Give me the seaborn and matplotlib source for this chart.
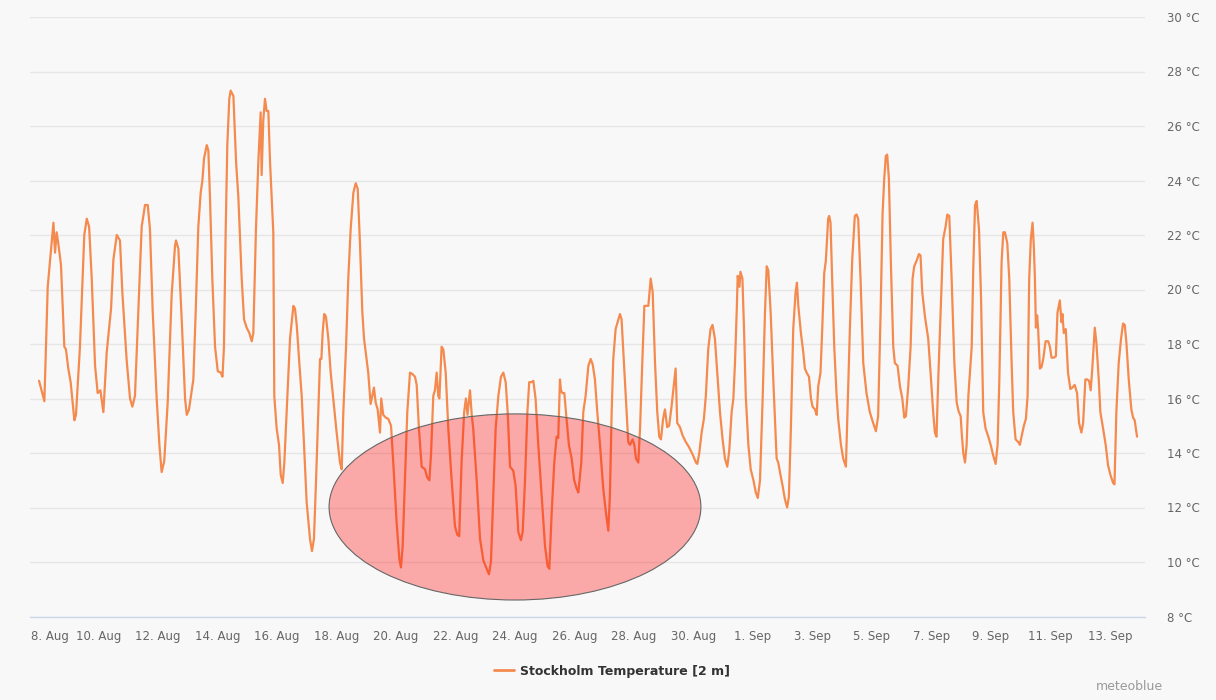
import matplotlib
matplotlib.use("Agg")
import matplotlib.pyplot as plt
import matplotlib.dates as mdates
from matplotlib.patches import Ellipse
from matplotlib.lines import Line2D
import pandas as pd
import seaborn as sns

# hours after 8 Aug 00:00
HOURS = [
    0, 4.3, 7, 11.6, 12.9, 14.2, 15.5, 17.7, 20.4, 21.7, 23.6, 25.5, 28.5, 29.8, 33, 36.5, 38.5, 40.4,
    42.5, 45.2, 47.3, 49.5, 51.9, 54.6, 58.1, 60, 62.7, 65.3, 67.2, 70.7, 73.4, 75.3, 77.4, 80.1, 82.8,
    85.5, 87.7, 89.5, 91.7, 94.9, 97.1, 98.9, 101, 103.8, 107, 109.7, 110.5, 112.4, 115.1, 117.8, 119.2,
    121, 122.6, 124.5, 126.4, 128.5, 130.4, 131.8, 133.1, 135.3, 136.6, 137.9, 139.8, 142, 144.2, 146.6,
    148, 149.2, 150.6, 151.9, 153.5, 154.6, 156.8, 159, 160.8, 163.5, 165.4, 167.5, 169.7, 171.6, 172.9,
    175, 176.9, 178.8, 179.6, 180.9, 182.3, 183.6, 185, 186.4, 189, 189.8, 191.7, 193.6, 195, 196.6,
    197.9, 200.4, 202.5, 205.2, 206.5, 207.9, 210, 211.9, 213.8, 215.9, 218.6, 220.2, 221.8, 223.5,
    225.3, 226.7, 227.8, 228.8, 230.1, 231.5, 233.4, 235.3, 238, 240.1, 242.8, 244.2, 245.5, 247.7,
    249.5, 251.4, 253.6, 255.5, 257.1, 259, 260.8, 262.2, 263.8, 265.6, 267.5, 268.9, 270.2, 271.6,
    273.2, 275.1, 276.1, 277.7, 279.7, 281.8, 284, 285.8, 288.5, 290.7, 292, 293.4, 295.2, 297.1, 299.3,
    301.2, 303.3, 304.7, 306.5, 308.7, 311.4, 313.2, 314.9, 316.2, 318.1, 319.4, 320.8, 322.1, 323,
    324.8, 326.2, 328.1, 330.2, 332.9, 335.6, 337.5, 339, 340.9, 343, 344.4, 345.7, 347.7, 349.1, 350.3,
    353.1, 355.8, 358.5, 361.2, 363, 364.6, 366.5, 368.4, 370.6, 372.7, 374.6, 376.5, 378.1, 380, 382.6,
    384.5, 386.7, 388.8, 390.2, 392.1, 394, 395.5, 397.4, 398.8, 400.6, 402.8, 405.5, 408.2, 410.3,
    411.7, 413.6, 415.7, 417.6, 418.9, 420.3, 421.1, 422.2, 423.8, 425.6, 427.5, 429.7, 431.8, 433.7,
    435.1, 437.5, 439.1, 441, 443.2, 445.1, 446.7, 448.5, 450.4, 452.6, 455.2, 457.4, 459.3, 460.6, 462,
    463.3, 465.2, 466.8, 468.7, 470, 471.9, 474.1, 475.4, 476.8, 478.9, 480.3, 481.6, 483.5, 484.9,
    486.7, 488.4, 490.2, 491.6, 493.5, 495.1, 497, 498.8, 500.4, 501.8, 503.5, 505, 506.8, 508.4, 510.3,
    512.1, 513.6, 514.9, 517.1, 519.2, 521.9, 524.6, 527.8, 530, 531.1, 532.7, 534.6, 536.4, 538, 539.9,
    541.8, 543.4, 545.3, 547.2, 549.4, 551.5, 553.4, 555.3, 556.9, 558.8, 560.2, 561.5, 562.9, 563.7,
    565.1, 565.9, 567.5, 568.8, 570.2, 572.3, 574.2, 576.4, 578.3, 579.9, 581.7, 583.9, 585.7, 587.1,
    588.4, 590.3, 592.4, 595.1, 596.4, 597.8, 599.9, 601.8, 603.6, 605, 606.6, 608.5, 610.4, 611.5,
    612.6, 614.7, 616.6, 617.9, 619.3, 621.2, 622.8, 624.1, 626, 627.4, 628.7, 630.5, 631.9, 633.5,
    634.8, 636.7, 637.5, 638.6, 639.9, 641.6, 643.5, 644.8, 647, 648.8, 651, 652.3, 654.2, 656.1, 658.2,
    659.6, 660.9, 662.8, 665, 667.6, 670.3, 673, 675.2, 677, 679, 680.6, 681.9, 683.2, 684.3, 685.7,
    687.3, 689.2, 690.5, 692.7, 694.6, 696.5, 698.1, 699.4, 701.3, 703.2, 704.8, 706.1, 708, 709.9,
    711.2, 712.6, 714.8, 717.4, 719.3, 721.4, 722.8, 724.1, 725.5, 727.4, 729.5, 731.4, 732.8, 734.4,
    736.3, 738.5, 740.4, 741.8, 743.6, 744.4, 745.7, 747.1, 748.4, 749.8, 752.5, 753.8, 755.2, 756.5,
    758.4, 760, 761.8, 763.7, 765.9, 767.8, 769.9, 771.8, 773.4, 774.8, 775.8, 776.6, 778, 779.3, 781.2,
    782.8, 784.7, 786, 787.9, 790.1, 791.4, 792.7, 794.6, 796.2, 797.6, 798.9, 800.2, 801.6, 802.6,
    803.5, 804.3, 805.3, 806.1, 807.5, 808.8, 810.2, 812.1, 814.2, 815.6, 816.9, 818.8, 820.4, 821.7,
    823.6, 824.9, 825.7, 826.8, 828.4, 830.2, 832.1, 833.7, 835.6, 837.5, 839.1, 841, 842.4, 844.2,
    845.6, 847.2, 848.5, 849.8, 851.8, 853.1, 855, 856.3, 858.5, 860.6, 862.5, 864.4, 866.6, 867.7,
    869.2, 871.1, 873, 874.6, 876, 877.3, 879.2, 881.3, 882.7, 884, 885.9,
]
TEMP = [
    16.65, 15.9, 20.1, 22.45, 21.35, 22.1, 21.7, 20.9, 17.9, 17.8, 17.1, 16.6, 15.2, 15.4, 17.9, 22.0, 22.6, 22.3,
    20.4, 17.2, 16.2, 16.3, 15.5, 17.7, 19.3, 21.1, 22.0, 21.8, 19.9, 17.4, 16.0, 15.7, 16.1, 19.2, 22.3,
    23.1, 23.1, 22.2, 19.2, 16.0, 14.3, 13.3, 13.7, 15.85, 19.8, 21.6, 21.8, 21.5, 18.9, 16.0, 15.4,
    15.6, 16.1, 16.7, 19.2, 22.3, 23.55, 24.0, 24.8, 25.3, 25.1, 23.4, 20.4, 17.9, 17.0, 16.95,
    16.8, 17.9, 22.2, 25.3, 27.0, 27.3, 27.1, 24.65, 23.4, 20.4, 18.9, 18.6, 18.4, 18.1, 18.4,
    22.2, 24.65, 26.5, 24.2, 26.2, 27.0, 26.55, 26.55, 24.65, 22.1, 16.1, 14.9, 14.3, 13.2, 12.9,
    13.65, 16.1, 18.2, 19.4, 19.3, 18.7, 17.3, 16.1, 14.3, 12.2, 10.85, 10.4, 10.85, 13.0,
    15.5, 17.45, 17.45, 18.4, 19.1, 19.0, 18.2, 16.95, 15.7, 14.75, 13.65, 13.4, 15.5, 17.9,
    20.4, 22.2, 23.55, 23.9, 23.7, 21.6, 19.2, 18.2, 17.6, 16.95, 15.8, 16.1, 16.4, 15.85,
    15.6, 14.75, 16.0, 15.4, 15.3, 15.25, 15.0, 13.65, 11.45, 10.1, 9.8, 10.6, 13.0, 15.5, 16.95,
    16.9, 16.8, 16.5, 14.9, 13.5, 13.4, 13.1, 13.0, 13.9, 16.1, 16.3, 16.95, 16.1, 16.0,
    17.9, 17.8, 16.95, 14.9, 13.0, 11.3, 11.0, 10.95, 13.65, 15.5, 16.0, 15.4, 16.3, 15.4, 14.9,
    13.0, 10.85, 10.05, 9.75, 9.55, 10.0, 12.45, 14.9, 16.1, 16.8, 16.95, 16.6, 15.5, 13.5, 13.35,
    12.8, 11.1, 10.8, 11.1, 13.0, 15.5, 16.6, 16.6, 16.65, 16.0, 14.3, 12.45, 10.6, 9.85,
    9.75, 11.8, 13.65, 14.6, 14.55, 16.7, 16.3, 16.2, 16.2, 15.25, 14.3, 13.8, 13.0, 12.7,
    12.55, 13.65, 15.5, 16.1, 17.2, 17.45, 17.25, 16.7, 15.5, 14.3, 12.7, 11.8, 11.15, 12.45, 15.5,
    17.45, 18.55, 18.8, 19.1, 18.9, 17.3, 15.5, 14.4, 14.3, 14.5, 14.3, 13.8, 13.65, 14.9,
    17.3, 19.4, 19.4, 19.4, 20.4, 19.9, 17.3, 15.5, 14.6, 14.5, 15.25, 15.6, 14.95, 15.0, 15.7,
    16.45, 17.1, 15.1, 14.95, 14.65, 14.4, 14.2, 13.9, 13.65, 13.6, 14.0, 14.75, 15.25, 16.1, 17.8,
    18.55, 18.7, 18.2, 16.95, 15.5, 14.5, 13.8, 13.5, 14.1, 15.5, 16.0, 17.3, 19.2, 20.5,
    20.1, 20.65, 20.4, 18.55, 16.1, 14.3, 13.4, 13.0, 12.55, 12.35, 13.0, 16.1, 19.15, 20.85,
    20.7, 19.15, 16.7, 13.8, 13.65, 13.3, 12.8, 12.3, 12.0, 12.4, 14.9, 18.55, 19.9, 20.25,
    19.4, 18.4, 17.7, 17.1, 16.95, 16.8, 16.0, 15.7, 15.6, 15.4, 16.45, 16.95, 18.55, 20.6,
    21.05, 22.6, 22.7, 22.45, 20.4, 17.9, 16.1, 15.25, 14.3, 13.8, 13.5, 15.5, 18.55, 21.1, 22.7,
    22.75, 22.6, 20.4, 17.3, 16.2, 15.5, 15.1, 14.8, 15.35, 19.15, 22.8, 24.05, 24.9, 24.95, 24.05,
    20.95, 17.9, 17.3, 17.2, 16.45, 16.0, 15.3, 15.35, 16.45, 17.9, 20.4, 20.85, 21.05, 21.3,
    21.25, 19.9, 19.0, 18.2, 16.95, 15.5, 14.75, 14.6, 16.7, 19.15, 21.85, 22.3, 22.75, 22.7,
    20.4, 17.3, 15.85, 15.55, 15.35, 14.75, 14.0, 13.65, 14.3, 16.1, 17.9, 20.85, 23.1, 23.25,
    22.2, 19.75, 15.5, 14.9, 14.6, 14.3, 13.9, 13.6, 14.3, 16.7, 19.15, 21.0, 22.1, 22.1, 21.7,
    20.4, 17.3, 15.5, 14.5, 14.4, 14.3, 14.6, 15.0, 15.25, 16.1, 20.4, 21.85, 22.45, 21.6,
    20.4, 18.6, 19.05, 18.55, 17.1, 17.15, 17.45, 18.1, 18.1, 17.9, 17.5, 17.5, 17.55, 19.15,
    19.6, 18.8, 19.1, 18.4, 18.55, 16.95, 16.35, 16.4, 16.5, 16.2, 15.1, 14.75, 15.1, 16.7,
    16.7, 16.65, 16.3, 17.1, 18.6, 18.05, 16.7, 15.5, 14.9, 14.3, 13.55, 13.2, 12.9, 12.85,
    15.5, 17.3, 18.2, 18.75, 18.7, 18.05, 16.7, 15.6, 15.3, 15.2, 14.6,
]
Y_TICKS = list(range(8, 31, 2))
SERIES_NAME = "Stockholm Temperature [2 m]"
START = pd.Timestamp("2023-08-08")

LINE_COLOR = "#f58a4e"
BG = "#f8f8f8"

df = pd.DataFrame({"time": START + pd.to_timedelta(HOURS, unit="h"), "temp": TEMP})

sns.set_theme(style="white", rc={"axes.facecolor": BG, "figure.facecolor": BG})
plt.rcParams["font.family"] = ["DejaVu Sans"]

fig = plt.figure(figsize=(12.16, 7), dpi=100)
ax = fig.add_axes([30 / 1216, 1 - 616.5 / 700, 1115 / 1216, 599.5 / 700])

sns.lineplot(data=df, x="time", y="temp", ax=ax, color=LINE_COLOR, linewidth=1.6, legend=False)

# highlighted cold spell
ell = Ellipse((mdates.date2num(START + pd.Timedelta(days=16)), 12.02), width=12.5, height=6.83,
              facecolor=(1, 0, 0, 0.32), edgecolor="#666666", linewidth=0.8, zorder=5)
ax.add_patch(ell)

ax.set_xlim(START - pd.Timedelta(hours=7.3), START + pd.Timedelta(days=37.18))
ax.set_ylim(8, 30)

xticks = [START + pd.Timedelta(days=2 * k) for k in range(19)]
labels = [f"{d.day}. {d.strftime('%b')}" for d in xticks]
ax.set_xticks(xticks)
# first label is pushed right to stay inside the plot, like the original
ax.set_xticklabels([""] + labels[1:], fontsize=8.5, color="#666666")
ax.annotate(labels[0], xy=(mdates.date2num(xticks[0]), 0), xycoords=("data", "axes fraction"),
            xytext=(7.5, -10), textcoords="offset points", ha="center", va="top",
            fontsize=8.5, color="#666666", annotation_clip=False)

ax.set_yticks(Y_TICKS)
ax.set_yticklabels([f"{t} °C" for t in Y_TICKS], fontsize=8.5, color="#666666")
ax.yaxis.tick_right()
ax.tick_params(axis="y", length=0, pad=16)
ax.tick_params(axis="x", length=7, width=1, color="#ccd6eb", direction="out", pad=3)
ax.grid(axis="y", color="#e6e6e6", linewidth=1)
ax.grid(axis="x", visible=False)
ax.set_xlabel("")
ax.set_ylabel("")
for side in ["left", "right", "top"]:
    ax.spines[side].set_visible(False)
ax.spines["bottom"].set_color("#ccd6eb")
ax.spines["bottom"].set_linewidth(1)

handle = Line2D([0], [0], color=LINE_COLOR, linewidth=2)
fig.legend([handle], [SERIES_NAME], loc="center", bbox_to_anchor=(612 / 1216, 1 - 671 / 700),
           frameon=False, handlelength=1.6, handletextpad=0.5,
           labelcolor="#333333", prop={"weight": "bold", "size": 9})

fig.text(1163 / 1216, 1 - 687 / 700, "meteoblue", ha="right", va="center", fontsize=9, color="#999999")

fig.savefig("out.png", dpi=100, facecolor=BG)
